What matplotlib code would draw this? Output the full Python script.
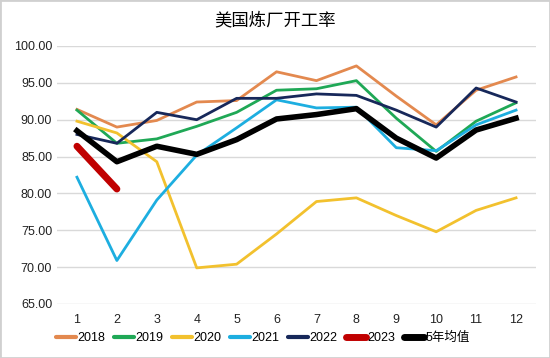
import matplotlib
matplotlib.use("Agg")
import matplotlib.pyplot as plt
from matplotlib.patches import Rectangle

plt.rcParams['font.family'] = ['Liberation Sans', 'Noto Sans CJK SC']

months = [1, 2, 3, 4, 5, 6, 7, 8, 9, 10, 11, 12]
y2018 = [91.4, 89.0, 89.9, 92.4, 92.6, 96.5, 95.3, 97.3, 93.2, 89.3, 94.0, 95.8]
y2019 = [91.3, 86.8, 87.4, 89.1, 91.0, 94.0, 94.2, 95.3, 90.2, 85.7, 89.8, 92.3]
y2020 = [89.8, 88.2, 84.3, 69.9, 70.4, 74.5, 78.9, 79.4, 77.0, 74.8, 77.7, 79.4]
y2021 = [82.2, 70.9, 79.1, 85.2, 88.9, 92.7, 91.6, 91.7, 86.2, 85.8, 89.3, 91.3]
y2022 = [88.0, 86.8, 91.0, 90.0, 92.9, 92.9, 93.5, 93.3, 91.3, 89.0, 94.3, 92.4]
y2023 = [86.4, 80.6]
avg5 = [88.5, 84.3, 86.4, 85.3, 87.3, 90.1, 90.7, 91.5, 87.5, 84.8, 88.6, 90.2]

fig = plt.figure(figsize=(5.5, 3.58), dpi=100)
ax = fig.add_axes([57/550, 54/358, 479/550, 258/358])

ax.plot(months, y2018, color='#E3894F', lw=2, label='2018')
ax.plot(months, y2019, color='#1FA856', lw=2, label='2019')
ax.plot(months, y2020, color='#F2C12E', lw=2, label='2020')
ax.plot(months, y2021, color='#1DAEE0', lw=2, label='2021')
ax.plot(months, y2022, color='#17285A', lw=2, label='2022')
ax.plot(months[:2], y2023, color='#C00000', lw=5, solid_capstyle='round', label='2023')
ax.plot(months, avg5, color='black', lw=4, label='5年均值')

ax.set_xlim(0.5, 12.5)
ax.set_ylim(65, 100)
ax.set_yticks([65, 70, 75, 80, 85, 90, 95, 100])
ax.set_yticklabels(['%.2f' % v for v in ax.get_yticks()])
ax.set_xticks(months)
ax.grid(axis='y', color='#D9D9D9', lw=1)
ax.set_axisbelow(True)
for s in ax.spines.values():
    s.set_visible(False)
ax.tick_params(length=0, labelsize=9, colors='#222222')
ax.tick_params(axis='x', pad=7)

fig.text(0.5, 0.945, '美国炼厂开工率', ha='center', va='center', fontsize=12.5)
leg = fig.legend(loc='center', bbox_to_anchor=(0.478, 0.055), ncol=7, frameon=False,
                 fontsize=9, handlelength=1.6, handletextpad=0.1, columnspacing=0.7)
for i, h in enumerate(leg.get_lines()):
    h.set_linewidth(3 if i < 5 else 5)
    h.set_solid_capstyle('round')
fig.patches.append(Rectangle((0, 0), 1, 1, transform=fig.transFigure, fill=False,
                             edgecolor='#D0D0D0', lw=2))
fig.savefig('out.png', dpi=100)
